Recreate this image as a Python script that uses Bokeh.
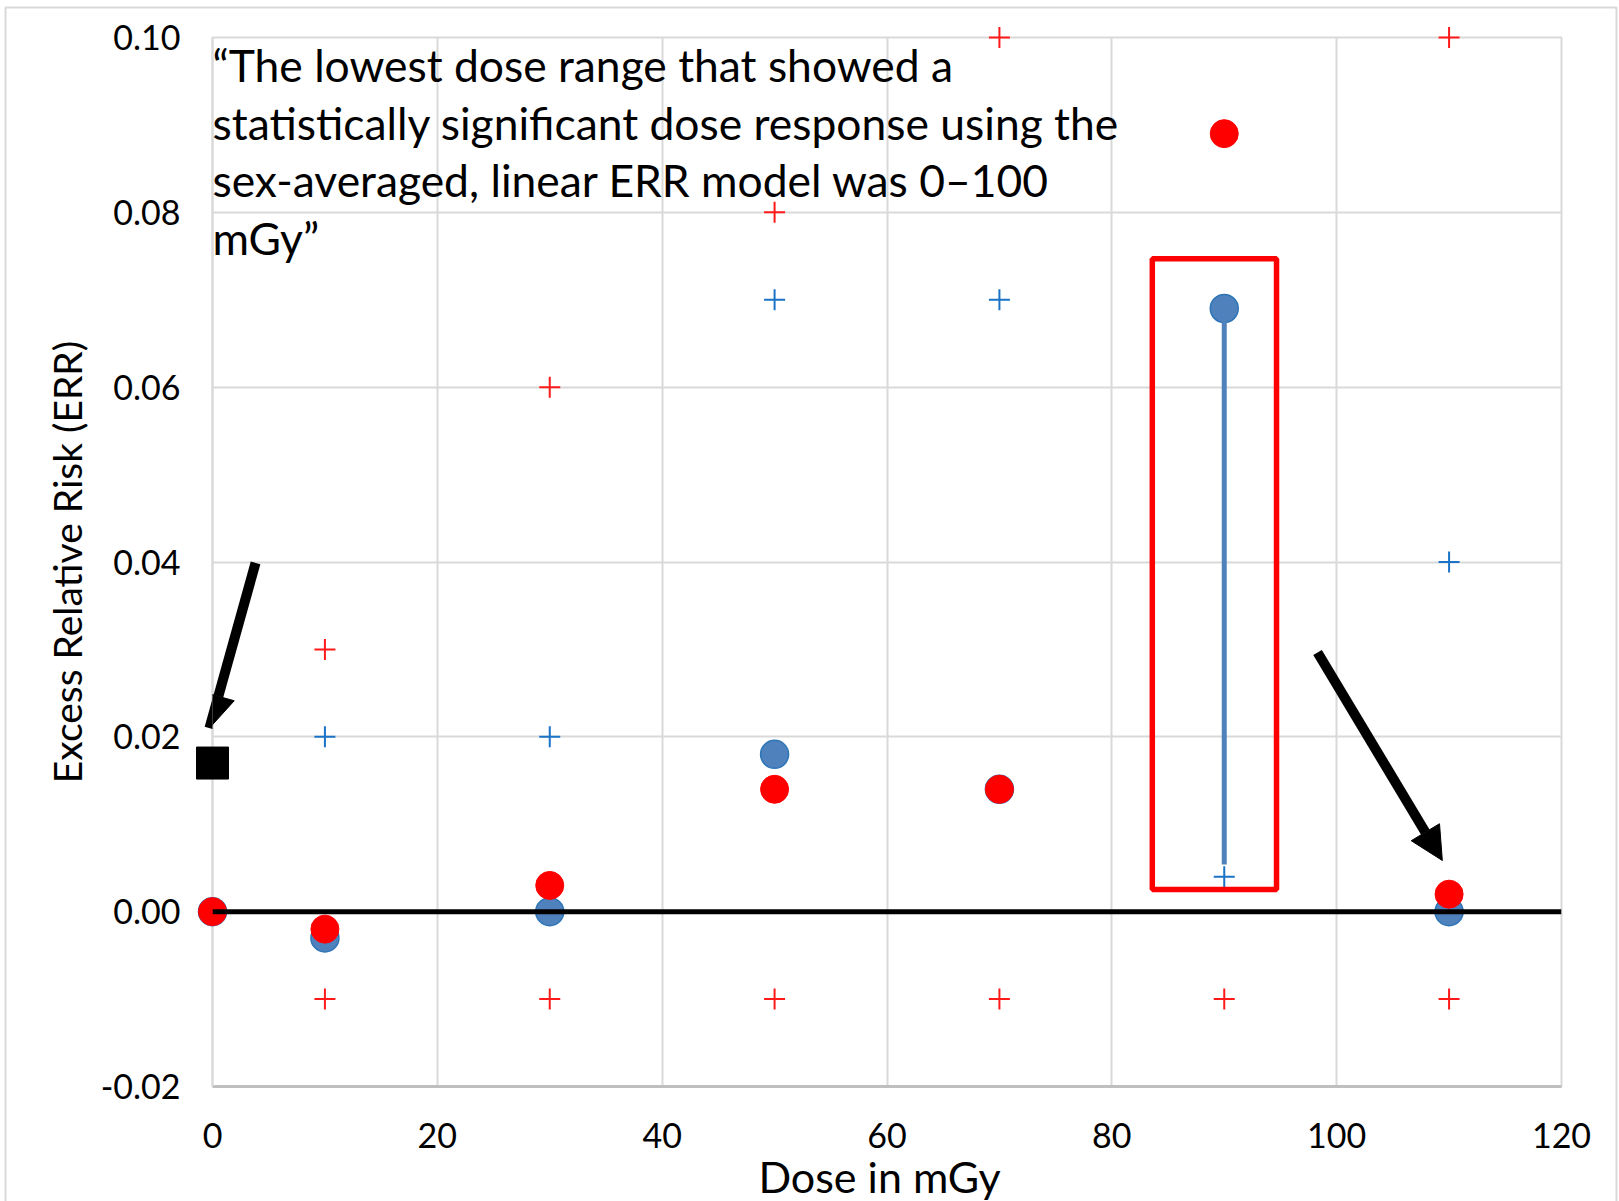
from bokeh.plotting import figure
from bokeh.models import (Range1d, FixedTicker, Label, Span, Arrow, NormalHead,
                          NumeralTickFormatter, ColumnDataSource)
from bokeh.core.properties import value
from bokeh.embed import file_html
from bokeh.resources import INLINE

nan = float("nan")

# ---------------- data ----------------
doses = [0, 10, 30, 50, 70, 90, 110]
err_red = [0.0, -0.002, 0.003, 0.014, 0.014, 0.089, 0.002]
err_blue = [0.0, -0.003, 0.0, 0.018, 0.014, 0.069, 0.0]
red_upper = [nan, 0.03, 0.06, 0.08, 0.10, nan, 0.10]
red_lower = [nan, -0.01, -0.01, -0.01, -0.01, -0.01, -0.01]
blue_upper = [nan, 0.02, 0.02, 0.07, 0.07, nan, 0.04]
blue_lower = [nan, nan, nan, nan, nan, 0.004, nan]
lowest_dose = [0]
lowest_err = [0.017]

x_ticks = [0, 20, 40, 60, 80, 100, 120]
y_ticks = [-0.02, 0.0, 0.02, 0.04, 0.06, 0.08, 0.10]

x_title = "Dose in mGy"
y_title = "Excess Relative Risk (ERR)"
quote_lines = [
    "\u201cThe lowest dose range that showed a",
    "statistically significant dose response using the",
    "sex-averaged, linear ERR model was 0\u2013100",
    "mGy\u201d",
]

# annotation geometry (data units)
highlight_x = [83.6, 94.65]
highlight_y = [0.00254, 0.0747]
highlight_seg = [90, 0.069, 90, 0.0054]
arrow1 = [3.83, 0.0399, -0.27, 0.0210]
arrow2 = [98.3, 0.02965, 109.4, 0.00585]

FONT = "Lato"

X0, X1 = x_ticks[0], x_ticks[-1]
Y0, Y1 = y_ticks[0], y_ticks[-1]
FRAME_LEFT, FRAME_W = 212, 1349
FRAME_TOP, FRAME_H = 37, 1049
PX_PER_X = FRAME_W / (X1 - X0)
PX_PER_Y = FRAME_H / (Y1 - Y0)


def y_from_px(py):
    return Y1 - (py - FRAME_TOP) / PX_PER_Y


def x_from_px(px):
    return X0 + (px - FRAME_LEFT) / PX_PER_X


p = figure(width=1619, height=1201, x_range=Range1d(X0, X1), y_range=Range1d(Y0, Y1),
           output_backend="svg", toolbar_location=None,
           min_border_left=FRAME_LEFT, min_border_right=1619 - FRAME_LEFT - FRAME_W,
           min_border_top=FRAME_TOP, min_border_bottom=1201 - FRAME_TOP - FRAME_H)

p.background_fill_color = "white"
p.border_fill_color = "white"
p.outline_line_color = "#d9d9d9"
p.outline_line_width = 2

xt = FixedTicker(ticks=x_ticks)
yt = FixedTicker(ticks=y_ticks)
p.xaxis.ticker = xt
p.yaxis.ticker = yt
p.xgrid.ticker = xt
p.ygrid.ticker = yt
for g in (p.xgrid, p.ygrid):
    g.grid_line_color = "#d9d9d9"
    g.grid_line_width = 2

p.yaxis.formatter = NumeralTickFormatter(format="0.00")
for ax in (p.xaxis, p.yaxis):
    ax.major_tick_line_color = None
    ax.minor_tick_line_color = None
    ax.major_label_text_font = FONT
    ax.major_label_text_font_size = "34px"
    ax.major_label_text_color = "black"
p.xaxis.axis_line_color = "#bfbfbf"
p.xaxis.axis_line_width = 3
p.yaxis.axis_line_color = "#d9d9d9"
p.yaxis.axis_line_width = 2
p.xaxis.major_label_standoff = 30
p.yaxis.major_label_standoff = 26

p.yaxis.axis_label = y_title
p.yaxis.axis_label_text_font = FONT
p.yaxis.axis_label_text_font_size = "39px"
p.yaxis.axis_label_text_font_style = "normal"
p.yaxis.axis_label_text_color = "black"
p.yaxis.axis_label_standoff = 8

src = ColumnDataSource(dict(dose=doses, red=err_red, blue=err_blue,
                            ru=red_upper, rl=red_lower, bu=blue_upper, bl=blue_lower))

rs = []
# outer chart-area border (light grey frame around the whole picture)
rs.append(p.quad(left=[x_from_px(5)], right=[x_from_px(1616)], top=[y_from_px(7)], bottom=[y_from_px(1260)],
                 fill_color=None, line_color="#d9d9d9", line_width=2))
rs.append(p.scatter("dose", "bu", source=src, marker="cross", size=21, line_color="#1a73c6", line_width=2))
rs.append(p.scatter("dose", "bl", source=src, marker="cross", size=21, line_color="#1a73c6", line_width=2))
rs.append(p.scatter("dose", "ru", source=src, marker="cross", size=21, line_color="#ff1a1a", line_width=2))
rs.append(p.scatter("dose", "rl", source=src, marker="cross", size=21, line_color="#ff1a1a", line_width=2))
rs.append(p.scatter("dose", "blue", source=src, marker="circle", size=28, fill_color="#4f81bd",
                    line_color="#2e75b6", line_width=1.5))
rs.append(p.scatter("dose", "red", source=src, marker="circle", size=28, fill_color="#ff0000",
                    line_color="#ff0000", line_width=1))
rs.append(p.scatter(lowest_dose, lowest_err, marker="square", size=32, fill_color="black", line_color="black"))
rs.append(p.segment(x0=[highlight_seg[0]], y0=[highlight_seg[1]], x1=[highlight_seg[2]], y1=[highlight_seg[3]],
                    line_color="#4f81bd", line_width=5))
rs.append(p.quad(left=[highlight_x[0]], right=[highlight_x[1]], bottom=[highlight_y[0]], top=[highlight_y[1]],
                 fill_color=None, line_color="#ff0000", line_width=5.5))
rs.append(p.text(x=[x_from_px(879)], y=[y_from_px(1176)], text=[x_title], text_font=value(FONT),
                 text_font_size="43px", text_color="black", text_align="center", text_baseline="middle"))
for r in rs:
    r.level = "overlay"

zero = Span(location=0, dimension="width", line_color="black", line_width=5, level="overlay")
p.add_layout(zero)

for a in (arrow1, arrow2):
    p.add_layout(Arrow(end=NormalHead(size=33, fill_color="black", line_color="black", line_width=1),
                       x_start=a[0], y_start=a[1], x_end=a[2], y_end=a[3],
                       line_color="black", line_width=10))

line_centers = [64, 121.5, 179, 236.5]
for line, c in zip(quote_lines, line_centers):
    p.add_layout(Label(x=X0, y=y_from_px(c), text=line, text_font=FONT, text_font_size="44.4px",
                       text_color="black", text_align="left", text_baseline="alphabetic"))

open("out.html", "w").write(file_html(p, INLINE))
